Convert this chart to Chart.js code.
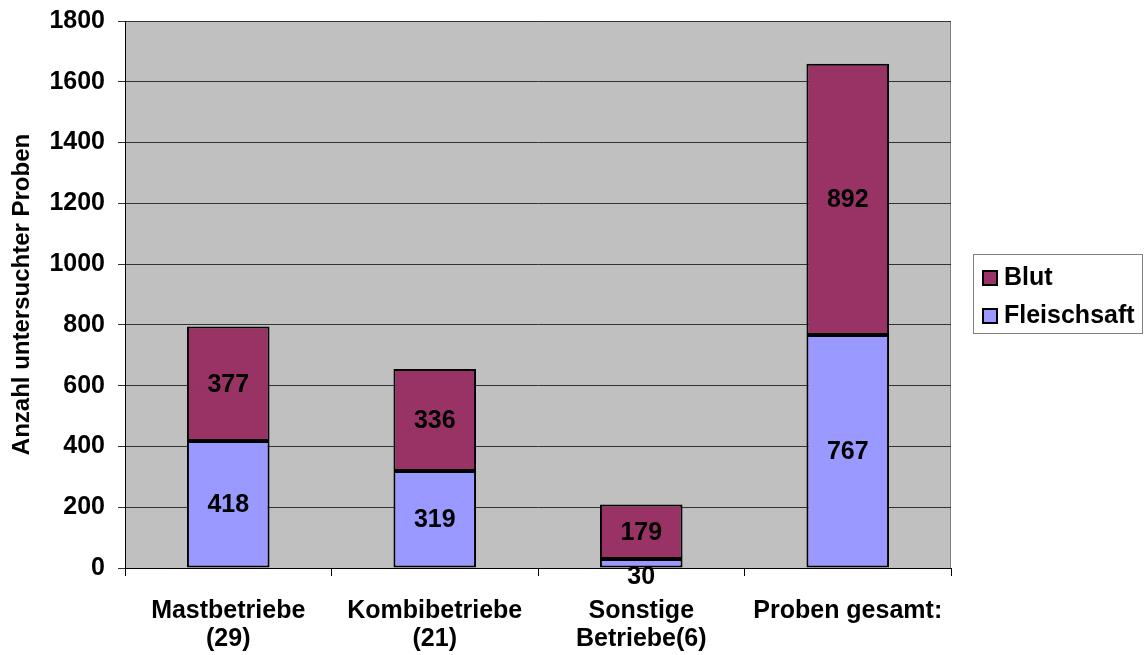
<!DOCTYPE html>
<html lang="de">
<head>
    <meta charset="UTF-8">
    <title>Anzahl untersuchter Proben</title>
    <style>
        html, body { margin: 0; padding: 0; background: #fff; }
        .chart-container { width: 1144px; height: 655px; position: relative; }
    </style>
    <script src="https://cdn.jsdelivr.net/npm/chart.js"></script>
</head>
<body>
    <div class="chart-container">
        <canvas id="probenChart"></canvas>
    </div>

    <script>
        // Daten
        const categories = [
            ['Mastbetriebe', '(29)'],
            ['Kombibetriebe', '(21)'],
            ['Sonstige', 'Betriebe(6)'],
            ['Proben gesamt:']
        ];
        const fleischsaft = [418, 319, 30, 767];
        const blut = [377, 336, 179, 892];
        const yTicks = [0, 200, 400, 600, 800, 1000, 1200, 1400, 1600, 1800];

        const FONT = 'Liberation Sans, Arial, sans-serif';
        const FONT_SIZE = 25;

        // grey plot area
        const plotBackground = {
            id: 'plotBackground',
            beforeDraw(chart) {
                const { ctx, chartArea: a } = chart;
                ctx.save();
                ctx.fillStyle = '#C0C0C0';
                ctx.fillRect(a.left, a.top, a.right - a.left, a.bottom - a.top);
                ctx.strokeStyle = '#808080';
                ctx.lineWidth = 1;
                ctx.strokeRect(a.left + 0.5, a.top + 0.5, a.right - a.left - 1, a.bottom - a.top);
                ctx.restore();
            }
        };

        // value labels in the middle of each segment
        const valueLabels = {
            id: 'valueLabels',
            afterDatasetsDraw(chart) {
                const { ctx } = chart;
                ctx.save();
                ctx.font = 'bold ' + FONT_SIZE + 'px ' + FONT;
                ctx.fillStyle = '#000';
                ctx.textAlign = 'center';
                ctx.textBaseline = 'middle';
                chart.data.datasets.forEach((ds, i) => {
                    chart.getDatasetMeta(i).data.forEach((bar, j) => {
                        const h = Math.abs(bar.base - bar.y);
                        let y = (bar.y + bar.base) / 2 + 1;
                        if (h < 24) y = bar.base + 10;
                        ctx.fillText(String(ds.data[j]), bar.x, y);
                    });
                });
                ctx.restore();
            }
        };

        // legend box on the right (Blut above Fleischsaft)
        const boxLegend = {
            id: 'boxLegend',
            afterDraw(chart) {
                const { ctx } = chart;
                const items = chart.data.datasets.slice().reverse();
                const left = 973, top = 254, width = 169, height = 79;
                ctx.save();
                ctx.fillStyle = '#fff';
                ctx.fillRect(left, top, width, height);
                ctx.strokeStyle = '#808080';
                ctx.lineWidth = 1;
                ctx.strokeRect(left + 0.5, top + 0.5, width, height);
                ctx.font = 'bold ' + FONT_SIZE + 'px ' + FONT;
                ctx.textBaseline = 'middle';
                items.forEach((ds, i) => {
                    const cy = top + 24 + i * 38;
                    ctx.fillStyle = ds.backgroundColor;
                    ctx.fillRect(983, cy - 7, 14, 14);
                    ctx.strokeStyle = '#000';
                    ctx.lineWidth = 2;
                    ctx.strokeRect(983, cy - 7, 14, 14);
                    ctx.fillStyle = '#000';
                    ctx.fillText(ds.label, 1004, cy);
                });
                ctx.restore();
            }
        };

        const ctx = document.getElementById('probenChart').getContext('2d');
        new Chart(ctx, {
            type: 'bar',
            data: {
                labels: categories,
                datasets: [
                    {
                        label: 'Fleischsaft',
                        data: fleischsaft,
                        backgroundColor: '#9999FF',
                        borderColor: '#000',
                        borderWidth: 2,
                        borderSkipped: false
                    },
                    {
                        label: 'Blut',
                        data: blut,
                        backgroundColor: '#993366',
                        borderColor: '#000',
                        borderWidth: 2,
                        borderSkipped: false
                    }
                ]
            },
            options: {
                responsive: true,
                maintainAspectRatio: false,
                animation: false,
                layout: { padding: { top: 21, right: 193, left: 0, bottom: 0 } },
                datasets: { bar: { categoryPercentage: 1.0, barPercentage: 0.4 } },
                plugins: {
                    legend: { display: false },
                    tooltip: { enabled: false }
                },
                scales: {
                    x: {
                        stacked: true,
                        offset: true,
                        grid: {
                            offset: true,
                            drawOnChartArea: false,
                            drawTicks: true,
                            tickLength: 8,
                            color: '#000'
                        },
                        border: { color: '#000', width: 1 },
                        ticks: {
                            color: '#000',
                            padding: 21,
                            maxRotation: 0,
                            autoSkip: false,
                            font: { family: FONT, size: FONT_SIZE, weight: 'bold', lineHeight: 1.12 }
                        },
                        afterFit(scale) { scale.height = 87; }
                    },
                    y: {
                        stacked: true,
                        min: 0,
                        max: 1800,
                        afterBuildTicks(scale) { scale.ticks = yTicks.map(v => ({ value: v })); },
                        grid: {
                            color: '#333',
                            lineWidth: 1,
                            tickLength: 7
                        },
                        border: { color: '#000', width: 1 },
                        ticks: {
                            color: '#000',
                            padding: 13,
                            callback: v => String(v),
                            font: { family: FONT, size: FONT_SIZE, weight: 'bold' }
                        },
                        title: {
                            display: true,
                            text: 'Anzahl untersuchter Proben',
                            color: '#000',
                            padding: { top: 8, bottom: 0 },
                            font: { family: FONT, size: 24, weight: 'bold' }
                        },
                        afterFit(scale) {
                            scale.width = 125;
                            scale.paddingTop = 0;
                            scale.paddingBottom = 0;
                        }
                    }
                }
            },
            plugins: [plotBackground, valueLabels, boxLegend]
        });
    </script>
</body>
</html>
